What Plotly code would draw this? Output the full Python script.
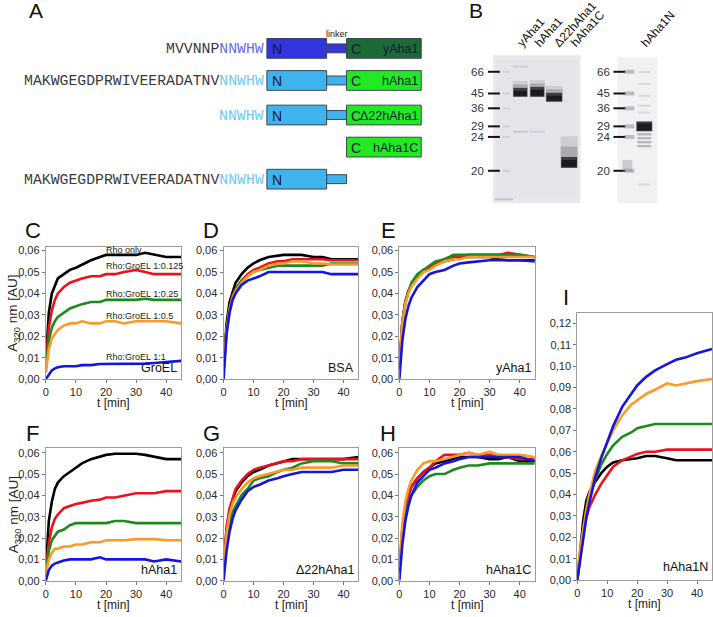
import plotly.graph_objects as go

W, H = 713, 617

# ---------------- data ----------------
T = [0, 0.5, 1, 2, 3, 4, 6, 8, 10, 12, 15, 18, 20, 23, 26, 30, 33, 36, 40, 45]
X_TICKS = [0, 10, 20, 30, 40]

C_black = [0.008, 0.022, 0.031, 0.040, 0.044, 0.047, 0.049, 0.051, 0.052, 0.0535, 0.0555, 0.057, 0.058, 0.058, 0.058, 0.058, 0.059, 0.058, 0.057, 0.057]
C_red = [0.007, 0.017, 0.024, 0.032, 0.037, 0.040, 0.043, 0.045, 0.046, 0.047, 0.048, 0.048, 0.049, 0.049, 0.050, 0.051, 0.050, 0.049, 0.049, 0.049]
C_green = [0.005, 0.013, 0.018, 0.024, 0.027, 0.029, 0.031, 0.033, 0.034, 0.035, 0.036, 0.036, 0.037, 0.037, 0.037, 0.037, 0.0375, 0.037, 0.037, 0.037]
C_orange = [0.003, 0.010, 0.014, 0.019, 0.021, 0.023, 0.025, 0.026, 0.026, 0.027, 0.026, 0.026, 0.027, 0.027, 0.026, 0.027, 0.027, 0.027, 0.027, 0.026]
C_blue = [0.0, 0.001, 0.002, 0.004, 0.005, 0.0055, 0.006, 0.006, 0.006, 0.0065, 0.0065, 0.007, 0.007, 0.007, 0.007, 0.007, 0.0072, 0.0075, 0.0078, 0.0085]

D_black = [0.005, 0.017, 0.026, 0.036, 0.041, 0.045, 0.049, 0.052, 0.054, 0.0555, 0.057, 0.0575, 0.058, 0.058, 0.058, 0.057, 0.057, 0.056, 0.056, 0.056]
D_red = [0.004, 0.015, 0.023, 0.033, 0.039, 0.042, 0.046, 0.049, 0.051, 0.052, 0.054, 0.055, 0.055, 0.056, 0.056, 0.056, 0.056, 0.0555, 0.0555, 0.0555]
D_green = [0.004, 0.015, 0.023, 0.033, 0.038, 0.042, 0.046, 0.048, 0.050, 0.051, 0.052, 0.053, 0.053, 0.053, 0.053, 0.053, 0.053, 0.054, 0.054, 0.054]
D_orange = [0.004, 0.015, 0.022, 0.032, 0.038, 0.041, 0.045, 0.048, 0.050, 0.051, 0.053, 0.054, 0.054, 0.055, 0.055, 0.054, 0.054, 0.0535, 0.0535, 0.0535]
D_blue = [0.0, 0.012, 0.021, 0.031, 0.037, 0.040, 0.044, 0.046, 0.047, 0.048, 0.050, 0.050, 0.050, 0.050, 0.050, 0.050, 0.050, 0.049, 0.049, 0.049]

E_black = [0.005, 0.017, 0.026, 0.036, 0.041, 0.044, 0.048, 0.051, 0.052, 0.0535, 0.055, 0.056, 0.057, 0.057, 0.057, 0.057, 0.056, 0.0555, 0.0555, 0.0555]
E_red = [0.005, 0.018, 0.027, 0.036, 0.041, 0.044, 0.048, 0.050, 0.052, 0.054, 0.056, 0.057, 0.057, 0.058, 0.058, 0.058, 0.058, 0.059, 0.058, 0.057]
E_green = [0.005, 0.018, 0.027, 0.036, 0.041, 0.045, 0.049, 0.051, 0.053, 0.055, 0.056, 0.058, 0.058, 0.058, 0.058, 0.058, 0.058, 0.058, 0.058, 0.057]
E_orange = [0.005, 0.017, 0.026, 0.035, 0.040, 0.043, 0.047, 0.050, 0.051, 0.053, 0.055, 0.056, 0.056, 0.057, 0.057, 0.057, 0.057, 0.057, 0.057, 0.057]
E_blue = [0.0, 0.010, 0.018, 0.028, 0.034, 0.038, 0.043, 0.046, 0.049, 0.050, 0.051, 0.053, 0.054, 0.0545, 0.055, 0.0555, 0.0555, 0.0555, 0.0555, 0.055]

F_black = [0.005, 0.018, 0.028, 0.037, 0.043, 0.046, 0.049, 0.051, 0.053, 0.055, 0.057, 0.058, 0.059, 0.0595, 0.0595, 0.0595, 0.059, 0.058, 0.057, 0.057]
F_red = [0.005, 0.012, 0.018, 0.025, 0.029, 0.031, 0.034, 0.035, 0.036, 0.0365, 0.0375, 0.038, 0.039, 0.039, 0.040, 0.041, 0.041, 0.041, 0.042, 0.042]
F_green = [0.004, 0.010, 0.014, 0.019, 0.021, 0.023, 0.024, 0.026, 0.027, 0.027, 0.027, 0.027, 0.027, 0.028, 0.028, 0.027, 0.027, 0.027, 0.027, 0.027]
F_orange = [0.003, 0.007, 0.010, 0.013, 0.015, 0.015, 0.016, 0.016, 0.017, 0.017, 0.018, 0.018, 0.019, 0.019, 0.019, 0.0195, 0.0195, 0.0195, 0.019, 0.019]
F_blue = [0.0, 0.003, 0.005, 0.007, 0.008, 0.0085, 0.0095, 0.010, 0.010, 0.010, 0.010, 0.011, 0.010, 0.010, 0.010, 0.010, 0.010, 0.009, 0.010, 0.009]

G_black = [0.005, 0.016, 0.024, 0.033, 0.038, 0.042, 0.046, 0.049, 0.051, 0.052, 0.054, 0.055, 0.056, 0.057, 0.057, 0.057, 0.057, 0.057, 0.057, 0.058]
G_red = [0.005, 0.017, 0.025, 0.034, 0.039, 0.043, 0.047, 0.050, 0.052, 0.053, 0.054, 0.055, 0.056, 0.056, 0.057, 0.057, 0.057, 0.057, 0.057, 0.057]
G_green = [0.004, 0.012, 0.019, 0.027, 0.032, 0.035, 0.040, 0.043, 0.047, 0.048, 0.049, 0.051, 0.052, 0.053, 0.055, 0.056, 0.056, 0.056, 0.055, 0.055]
G_orange = [0.005, 0.015, 0.022, 0.031, 0.036, 0.039, 0.043, 0.046, 0.048, 0.049, 0.050, 0.051, 0.052, 0.052, 0.053, 0.053, 0.053, 0.053, 0.054, 0.054]
G_blue = [0.0, 0.008, 0.014, 0.023, 0.029, 0.033, 0.038, 0.042, 0.044, 0.045, 0.047, 0.048, 0.049, 0.050, 0.051, 0.051, 0.051, 0.051, 0.052, 0.052]

H_black = [0.005, 0.016, 0.024, 0.034, 0.040, 0.044, 0.048, 0.051, 0.053, 0.055, 0.056, 0.057, 0.058, 0.058, 0.058, 0.057, 0.057, 0.058, 0.056, 0.056]
H_red = [0.005, 0.016, 0.024, 0.034, 0.040, 0.044, 0.048, 0.051, 0.053, 0.056, 0.059, 0.059, 0.059, 0.060, 0.059, 0.059, 0.058, 0.058, 0.057, 0.057]
H_green = [0.004, 0.014, 0.021, 0.030, 0.036, 0.040, 0.044, 0.047, 0.049, 0.050, 0.050, 0.052, 0.053, 0.054, 0.054, 0.055, 0.055, 0.055, 0.055, 0.055]
H_orange = [0.006, 0.018, 0.027, 0.037, 0.043, 0.047, 0.052, 0.055, 0.056, 0.056, 0.057, 0.058, 0.059, 0.060, 0.059, 0.0605, 0.059, 0.059, 0.059, 0.058]
H_blue = [0.0, 0.010, 0.017, 0.028, 0.035, 0.040, 0.046, 0.049, 0.052, 0.053, 0.055, 0.056, 0.057, 0.058, 0.058, 0.058, 0.058, 0.058, 0.058, 0.056]

I_black = [0.0, 0.008, 0.015, 0.028, 0.037, 0.041, 0.046, 0.050, 0.053, 0.055, 0.056, 0.0565, 0.057, 0.058, 0.058, 0.057, 0.056, 0.056, 0.056, 0.056]
I_red = [0.0, 0.006, 0.011, 0.021, 0.029, 0.034, 0.040, 0.045, 0.049, 0.053, 0.056, 0.058, 0.059, 0.060, 0.060, 0.061, 0.061, 0.061, 0.061, 0.061]
I_green = [0.0, 0.007, 0.013, 0.024, 0.032, 0.038, 0.047, 0.054, 0.059, 0.063, 0.067, 0.069, 0.071, 0.072, 0.073, 0.073, 0.073, 0.073, 0.073, 0.073]
I_orange = [0.005, 0.010, 0.015, 0.025, 0.033, 0.040, 0.051, 0.058, 0.064, 0.070, 0.077, 0.082, 0.084, 0.087, 0.089, 0.092, 0.091, 0.092, 0.093, 0.094]
I_blue = [0.0, 0.005, 0.010, 0.020, 0.029, 0.036, 0.048, 0.057, 0.065, 0.072, 0.081, 0.087, 0.091, 0.095, 0.098, 0.101, 0.103, 0.104, 0.106, 0.108]

C_curve_labels = ["Rho only", "Rho:GroEL 1:0.125", "Rho:GroEL 1:0.25", "Rho:GroEL 1:0.5", "Rho:GroEL 1:1"]
C_label_y = [0.0601, 0.0529, 0.0398, 0.0294, 0.0103]
C_label_t = 19.4

PANEL_NAMES = ["GroEL", "BSA", "yAha1", "hAha1", "Δ22hAha1", "hAha1C", "hAha1N"]
PANEL_LETTERS = ["C", "D", "E", "F", "G", "H", "I"]

SEQ_PREFIX = ["MVVNNP", "MAKWGEGDPRWIVEERADATNV", "", None, "MAKWGEGDPRWIVEERADATNV"]
SEQ_MOTIF = "NNWHW"
CONSTRUCTS = ["yAha1", "hAha1", "Δ22hAha1", "hAha1C", None]

MARKERS_KDA = ["66", "45", "36", "29", "24", "20"]
LANES_LEFT = ["yAha1", "hAha1", "Δ22hAha1", "hAha1C"]
LANES_RIGHT = ["hAha1N"]

# ---------------- styling / layout helpers ----------------
COL = {"black": "#000000", "red": "#e8141b", "green": "#1c8a1c",
       "orange": "#fb9a2a", "blue": "#1515e0"}
FONT = "Liberation Sans, Arial, sans-serif"


def px(x):
    return x / W


def py(y):
    return 1 - y / H


# pixel boxes of the 7 plot areas: (x0, x1, ytop, ybottom, ymax)
BOXES = [
    (43, 179, 248, 382, 0.0618),
    (221.5, 357, 248, 382, 0.0618),
    (398, 534, 248, 382, 0.0618),
    (43, 179, 451.7, 586.3, 0.0623),
    (221.5, 357, 451.7, 586.3, 0.0623),
    (398, 534, 451.7, 586.3, 0.0623),
    (576.7, 712, 315, 585.7, 0.1249),
]
LETTER_POS = [(30, 232), (209, 232), (387, 232), (30, 437), (209, 437), (387, 437), (565, 299)]

SERIES = [
    [C_black, C_red, C_green, C_orange, C_blue],
    [D_black, D_red, D_green, D_orange, D_blue],
    [E_black, E_red, E_green, E_orange, E_blue],
    [F_black, F_red, F_green, F_orange, F_blue],
    [G_black, G_red, G_green, G_orange, G_blue],
    [H_black, H_red, H_green, H_orange, H_blue],
    [I_black, I_red, I_green, I_orange, I_blue],
]
ORDER = ["black", "red", "green", "orange", "blue"]

fig = go.Figure()
layout = dict(
    width=W, height=H, margin=dict(l=0, r=0, t=0, b=0),
    paper_bgcolor="white", plot_bgcolor="white", showlegend=False,
    separators=",.", font=dict(family=FONT, color="#222"),
)
annotations = []
shapes = []


def note(text, x, y, size, color="#111", xa="center", ya="middle", **kw):
    d = dict(text=text, xref="paper", yref="paper", x=px(x), y=py(y), xanchor=xa,
             yanchor=ya, showarrow=False, font=dict(size=size, color=color, family=kw.pop("family", FONT)))
    d.update(kw)
    annotations.append(d)


for i, (box, series) in enumerate(zip(BOXES, SERIES)):
    x0, x1, yt, yb, ymax = box
    n = "" if i == 0 else str(i + 1)
    xa, ya = "x" + n, "y" + n
    for name, vals in zip(ORDER, series):
        fig.add_trace(go.Scatter(x=T, y=vals, mode="lines", xaxis=xa, yaxis=ya,
                                 line=dict(color=COL[name], width=2.6), hoverinfo="skip"))
    common = dict(showline=True, mirror=True, linecolor="#9c9c9c", linewidth=1,
                  ticks="outside", ticklen=3, tickcolor="#777", showgrid=False,
                  zeroline=False, tickfont=dict(size=11, color="#2a2a2a", family=FONT))
    layout["xaxis" + n] = dict(domain=[px(x0), px(x1)], range=[0, 45], anchor=ya,
                               tickvals=X_TICKS, **common)
    top_tick = 0.12 if ymax > 0.1 else 0.06
    yt_vals = [k / 100 for k in range(0, int(round(top_tick * 100)) + 1)]
    layout["yaxis" + n] = dict(domain=[py(yb), py(yt)], range=[0, ymax], anchor=xa,
                               tickvals=yt_vals, tickformat=".2f", **common)
    annotations.append(dict(text=PANEL_NAMES[i], xref=xa + " domain", yref=ya + " domain",
                            x=0.985, y=0.015, xanchor="right", yanchor="bottom",
                            showarrow=False, font=dict(size=12.5, color="#111", family=FONT)))
    lx, ly = LETTER_POS[i]
    note(PANEL_LETTERS[i], lx, ly, 22)
    note("t [min]", (x0 + x1) / 2, yb + 24.5, 12, "#222")
    if i in (0, 3):
        note("A<sub>320</sub> nm [AU]", 11, (yt + yb) / 2, 13.5, "#222", textangle=-90)

for lab, yv in zip(C_curve_labels, C_label_y):
    annotations.append(dict(text=lab, xref="x", yref="y", x=C_label_t, y=yv,
                            xanchor="left", yanchor="middle", showarrow=False,
                            font=dict(size=9, color="#222", family=FONT)))

# ---------------- panel A: schematic ----------------
note("A", 33, 9, 21)
ROW_Y = [47, 79.5, 114.5, 147, 179.5]
N_FILL = ["#3434e0", "#3fb3ee", "#3fb3ee", None, "#3fb3ee"]
C_FILL = ["#1b6b37", "#22ea22", "#22ea22", "#22ea22", None]
MOTIF_COL = ["#6a6ae6", "#72c8f2", "#72c8f2", None, "#72c8f2"]
LINK_END = [345, 345, 345, None, 345]


def rect(x0, y0, x1, y1, fill, line="#3c4650", w=1):
    shapes.append(dict(type="rect", xref="paper", yref="paper", x0=px(x0), x1=px(x1),
                       y0=py(y1), y1=py(y0), fillcolor=fill, line=dict(color=line, width=w),
                       layer="above"))


for r, cy in enumerate(ROW_Y):
    if SEQ_PREFIX[r] is not None:
        txt = SEQ_PREFIX[r] + "<span style='color:%s'>%s</span>" % (MOTIF_COL[r], SEQ_MOTIF)
        note(txt, 264, cy + 1, 14.8, "#3a3a3a", xa="right", family="Liberation Mono, monospace")
    if N_FILL[r]:
        rect(325, cy - 4.5, LINK_END[r], cy + 4.5, N_FILL[r])
        rect(265, cy - 10, 325, cy + 10, N_FILL[r])
        note("N", 268.5, cy + 1, 14, "#10183a", xa="left")
    if C_FILL[r]:
        rect(345, cy - 10, 420, cy + 10, C_FILL[r])
        note("C", 347.5, cy + 1, 14, "#10183a", xa="left")
        note(CONSTRUCTS[r], 418.5, cy + 1, 12.5, "#10183a", xa="right")
note("linker", 335, 32, 9, "#222222")

# ---------------- panel B: gels ----------------
note("B", 475, 9, 21)


def blob(x0, y0, x1, y1, color, op):
    shapes.append(dict(type="rect", xref="paper", yref="paper", x0=px(x0), x1=px(x1),
                       y0=py(y1), y1=py(y0), fillcolor=color, opacity=op,
                       line=dict(width=0), layer="above"))


blob(492, 54, 580, 204, "#e9e9ee", 1)
blob(495, 58, 577, 200, "#e4e4ea", 1)
blob(617, 56, 657, 204, "#f1f1f4", 1)
MARKER_Y = [70.7, 92.7, 107.7, 126, 136.7, 171]
for lab, y in zip(MARKERS_KDA, MARKER_Y):
    for lx, d0, d1 in ((485, 487, 499), (612, 613, 625)):
        note(lab, lx, y, 11.5, "#333", xa="right")
        shapes.append(dict(type="line", xref="paper", yref="paper", x0=px(d0), x1=px(d1),
                           y0=py(y), y1=py(y), line=dict(color="#111", width=2)))
    blob(502, y - 1, 509, y + 1, "#b4b4be", 0.4)
    blob(624, y - 2, 634, y + 2, "#7a7a84", 0.45)
blob(622, 160, 632, 172, "#80808a", 0.35)

# left gel bands: (x0, x1, ycore0, ycore1, smear_top)
BANDS = [(512, 527, 87, 96, 80), (529, 544, 86, 96, 79), (545, 562, 92, 101, 85),
         (560, 577, 157, 168, 136)]
for (x0, x1, c0, c1, s0) in BANDS:
    blob(x0, s0, x1, c1, "#8a8a94", 0.25)
    blob(x0, (s0 + c0) / 2, x1, c1, "#55555f", 0.3)
    blob(x0 + 0.5, c0, x1 - 0.5, c1, "#202026", 0.8)
    blob(x0 + 1, c0 + 3, x1 - 1, c1 - 1, "#000000", 0.55)
blob(512, 64.5, 527, 66.5, "#a8a8b2", 0.4)
blob(512, 130.5, 527, 132.5, "#a8a8b2", 0.45)
blob(529, 130.5, 544, 132.5, "#a8a8b2", 0.3)
blob(494, 199, 512, 201, "#9a9aa2", 0.5)
# right gel lane
blob(636, 121, 652, 131, "#202026", 0.85)
blob(637, 123, 651, 130, "#000000", 0.55)
for y in (134, 138, 142, 146):
    blob(637, y - 1.2, 651, y + 1.2, "#60606a", 0.4)
for y in (71, 83, 95, 105, 112, 185):
    blob(638, y - 1, 650, y + 1, "#9a9aa4", 0.3)

LANE_X = [511, 528, 548, 565]
for lab, x in zip(LANES_LEFT, LANE_X):
    note(lab, x, 51, 12, "#111", xa="left", ya="bottom", textangle=-48)
note(LANES_RIGHT[0], 635, 51, 12, "#111", xa="left", ya="bottom", textangle=-48)

layout["annotations"] = annotations
layout["shapes"] = shapes
fig.update_layout(**layout)
fig.write_html("out.html", config={"displayModeBar": False},
               post_script="document.body.style.margin='0px';document.body.style.padding='0px';")
